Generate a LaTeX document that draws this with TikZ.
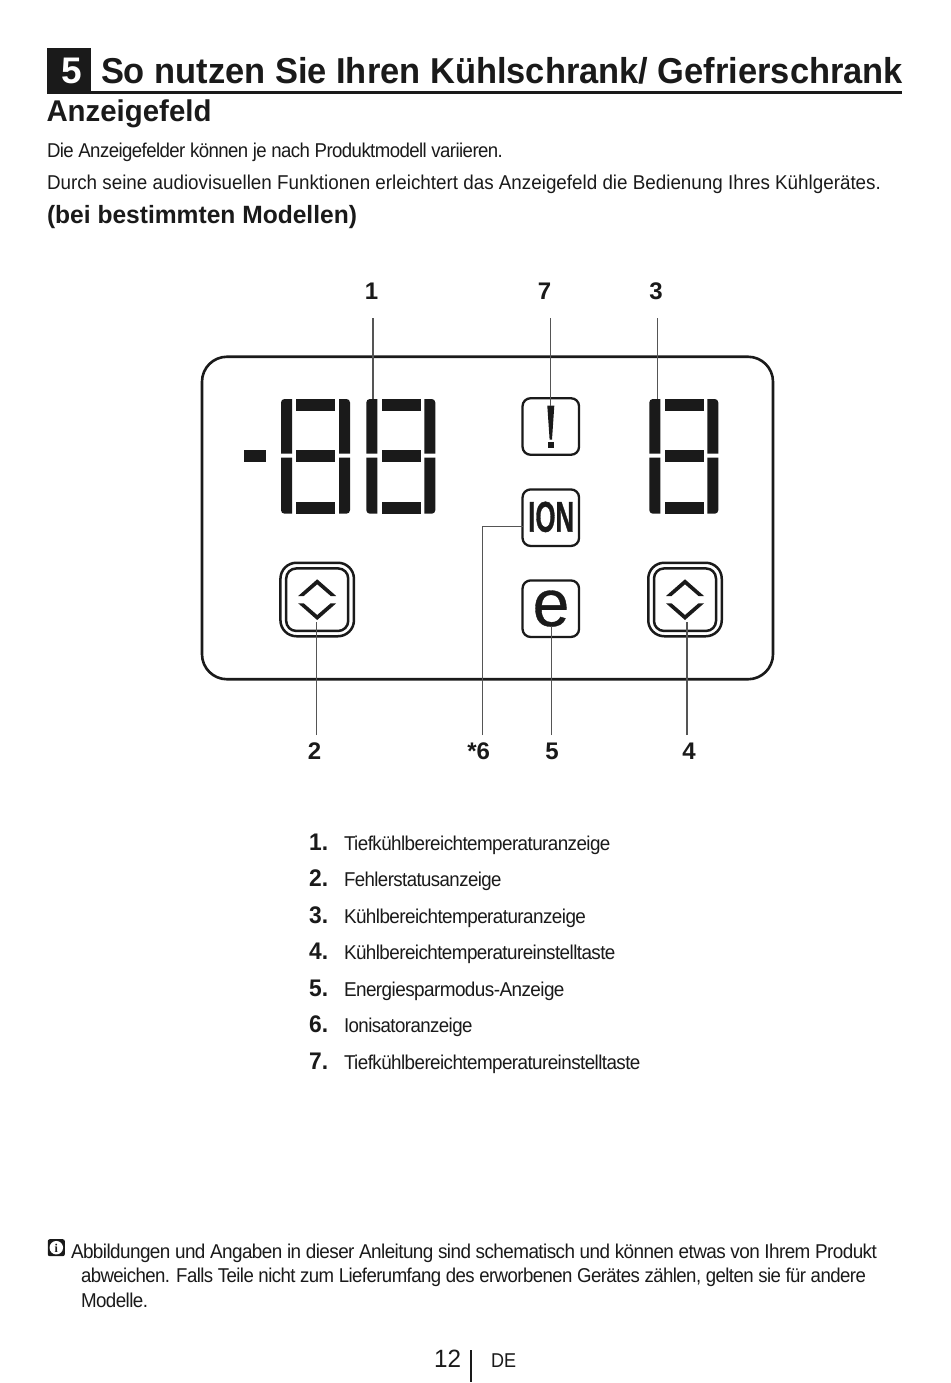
\documentclass[tikz,border=0pt]{standalone}
\usepackage{fontspec}
\usepackage{graphicx}
\setmainfont{Liberation Sans}
\newfontfamily\iconserif{Liberation Serif}
\newfontfamily\ecofont[FakeBold=0.5]{Liberation Sans}
\newfontfamily\ionfont[FakeBold=1.1]{Liberation Sans Bold}
\newfontfamily\tightfont[LetterSpace=-3]{Liberation Sans}
\definecolor{ink}{HTML}{1A1A1A}
\definecolor{leader}{HTML}{555555}
\newsavebox{\fitbox}
% set text in a box and stretch it horizontally to a given width in px
\newcommand{\fitw}[2]{\sbox{\fitbox}{#2}\pgfmathsetmacro{\fitr}{#1/(\wd\fitbox/1pt)}\scalebox{\fitr}[1]{\usebox{\fitbox}}}
\newcommand{\sevenseg}[1]{%
\begin{scope}[xshift=#1pt]
\fill[seg] (281,453.5) [rounded corners=3.5pt] -- (281,399) [sharp corners] -- (292,399) -- (292,453.5) -- cycle;
\fill[seg] (281,457.7) -- (292,457.7) -- (292,513.7) [rounded corners=3.5pt] -- (281,513.7) [sharp corners] -- cycle;
\fill[seg] (350,453.5) [rounded corners=3.5pt] -- (350,399) [sharp corners] -- (339,399) -- (339,453.5) -- cycle;
\fill[seg] (350,457.7) -- (339,457.7) -- (339,513.7) [rounded corners=3.5pt] -- (350,513.7) [sharp corners] -- cycle;
\fill[seg] (296.3,399) rectangle (335.3,410.7);
\fill[seg] (296.3,450.3) rectangle (335.3,462);
\fill[seg] (296.3,502.3) rectangle (335.3,513.7);
\end{scope}}
\newcommand{\chevrons}[1]{%
\fill[seg] (#1,579.3) -- (#1+19,596) -- (#1+13.5,596) -- (#1,584.3) -- (#1-13.5,596) -- (#1-19,596) -- cycle;
\fill[seg] (#1,620) -- (#1+19,603.3) -- (#1+13.5,603.3) -- (#1,615) -- (#1-13.5,603.3) -- (#1-19,603.3) -- cycle;}
\tikzset{
  seg/.style={fill=ink},
  txt/.style={inner sep=0pt,outer sep=0pt,anchor=base west,text=ink,font=\fontsize{20}{24}\selectfont},
  tighttxt/.style={inner sep=0pt,outer sep=0pt,anchor=base west,text=ink,font=\tightfont\fontsize{20}{24}\selectfont},
  boldhead/.style={txt,font=\fontsize{25}{28}\selectfont\bfseries},
  callout/.style={inner sep=0pt,anchor=base,text=ink,font=\fontsize{24}{28}\selectfont\bfseries},
  listnum/.style={inner sep=0pt,anchor=base west,text=ink,font=\fontsize{24}{28}\selectfont\bfseries},
  softkey/.style={draw=ink,line width=2.3pt,rounded corners=8pt,minimum width=56.5pt,minimum height=56.5pt,inner sep=0pt,outer sep=0pt},
  leaderline/.style={draw=leader,line width=1.1pt},
  outerkey/.style={draw=ink,line width=2.5pt,rounded corners=16pt,minimum width=73.5pt,minimum height=73.5pt,inner sep=0pt,outer sep=0pt},
  innerkey/.style={draw=ink,line width=2.5pt,rounded corners=10pt,minimum width=62pt,minimum height=62.5pt,inner sep=0pt,outer sep=0pt},
}
\begin{document}
\begin{tikzpicture}[x=1pt,y=-1pt]
\useasboundingbox (0,0) rectangle (950,1383);
\fill[white] (0,0) rectangle (950,1383);
% header
\node[fill=ink,minimum width=44pt,minimum height=45pt,inner sep=0pt,outer sep=0pt] (secbox) at (69,70.7) {};
\node[inner sep=0pt,anchor=base,text=white,font=\fontsize{37}{40}\selectfont\bfseries] (secnum) at (71.5,84) {5};
\node[txt,font=\fontsize{36}{40}\selectfont\bfseries] (title) at (101,84) {\fitw{802}{So nutzen Sie Ihren Kühlschrank/ Gefrierschrank}};
\fill[ink] (47,91.4) rectangle (902,93.7);
\node[txt,font=\fontsize{30}{32}\selectfont\bfseries] (sub) at (46.5,122) {\fitw{165}{Anzeigefeld}};
\node[tighttxt] (intro1) at (47,157.7) {\fitw{456}{Die Anzeigefelder können je nach Produktmodell variieren.}};
\node[txt] (intro2) at (47,189.7) {\fitw{834}{Durch seine audiovisuellen Funktionen erleichtert das Anzeigefeld die Bedienung Ihres Kühlgerätes.}};
\node[boldhead] (models) at (47,223.5) {\fitw{310}{(bei bestimmten Modellen)}};
% panel
\node[draw=ink,line width=2.6pt,rounded corners=25pt,minimum width=571pt,minimum height=322.5pt,inner sep=0pt,outer sep=0pt] (panel) at (487.5,518) {};
\fill[seg] (244,450.3) rectangle (265.7,462);
\sevenseg{0}
\sevenseg{85.3}
\sevenseg{368.3}
\node[softkey] (alarm) at (550.8,426.5) {};
\node[softkey] (ion) at (550.8,517.7) {};
\node[softkey] (eco) at (550.8,608.7) {};
\fill[seg] (547.3,405.7) -- (554.3,405.7) -- (552,439.5) -- (549.6,439.5) -- cycle;
\fill[seg] (547.8,441.7) rectangle (553.7,447.7);
\node[inner sep=0pt,anchor=base,text=ink,font=\ionfont\fontsize{43}{43}\selectfont,xscale=.6] (iontext) at (551.2,531.7) {ION};
\node[inner sep=0pt,anchor=base,text=ink,font=\ecofont\fontsize{66}{66}\selectfont] (ecotext) at (551,626) {e};
\node[outerkey] (keyL) at (317.2,599.5) {};
\node[innerkey] (keyLi) at (317.2,599.7) {};
\chevrons{317.2}
\node[outerkey] (keyR) at (685,599.5) {};
\node[innerkey] (keyRi) at (685,599.7) {};
\chevrons{685}
% callout labels
\node[callout] (n1) at (371.5,299.5) {1};
\node[callout] (n7) at (544.5,299.5) {7};
\node[callout] (n3) at (656,299.5) {3};
\node[callout] (n2) at (314.5,759.5) {2};
\node[callout] (n6) at (478.7,759.5) {*6};
\node[callout] (n5) at (552,759.5) {5};
\node[callout] (n4) at (689,759.5) {4};
% leader ends
\coordinate (a1) at (373,318); \coordinate (b1) at (373,399);
\coordinate (a7) at (550.7,318); \coordinate (b7) at (550.7,406);
\coordinate (a3) at (657.7,318); \coordinate (b3) at (657.7,399);
\coordinate (a2) at (316.7,735); \coordinate (b2) at (316.7,622);
\coordinate (a6) at (482.7,735); \coordinate (c6) at (482.7,526.7); \coordinate (b6) at (ion.west|-c6);
\coordinate (a5) at (551.7,735); \coordinate (b5) at (551.7,626);
\coordinate (a4) at (687,735); \coordinate (b4) at (687,622);
\draw[leaderline] (a1) -- (b1);
\draw[leaderline] (a7) -- (b7);
\draw[leaderline] (a3) -- (b3);
\draw[leaderline] (a2) -- (b2);
\draw[leaderline] (a6) -- (c6) -- (b6);
\draw[leaderline] (a5) -- (b5);
\draw[leaderline] (a4) -- (b4);
% list
\node[listnum] (l1) at (309,850) {\fitw{19}{1.}};
\node[listnum] (l2) at (309,886.5) {\fitw{19}{2.}};
\node[listnum] (l3) at (309,923) {\fitw{19}{3.}};
\node[listnum] (l4) at (309,959.5) {\fitw{19}{4.}};
\node[listnum] (l5) at (309,996) {\fitw{19}{5.}};
\node[listnum] (l6) at (309,1032.5) {\fitw{19}{6.}};
\node[listnum] (l7) at (309,1069) {\fitw{19}{7.}};
\node[tighttxt] (t1) at (344,850) {\fitw{266.5}{Tiefkühlbereichtemperaturanzeige}};
\node[tighttxt] (t2) at (344,886.5) {\fitw{157.5}{Fehlerstatusanzeige}};
\node[tighttxt] (t3) at (344,923) {\fitw{242}{Kühlbereichtemperaturanzeige}};
\node[tighttxt] (t4) at (344,959.5) {\fitw{271.5}{Kühlbereichtemperatureinstelltaste}};
\node[tighttxt] (t5) at (344,996) {\fitw{220.5}{Energiesparmodus-Anzeige}};
\node[tighttxt] (t6) at (344,1032.5) {\fitw{128.5}{Ionisatoranzeige}};
\node[tighttxt] (t7) at (344,1069) {\fitw{296.5}{Tiefkühlbereichtemperatureinstelltaste}};
% note
\node[fill=ink,rounded corners=2pt,minimum width=17pt,minimum height=17pt,inner sep=0pt] (icon) at (56.3,1247.7) {};
\node[fill=white,circle,minimum size=13.5pt,inner sep=0pt] (iconc) at (56.3,1247.7) {};
\node[inner sep=0pt,anchor=base,text=ink,font=\iconserif\fontsize{12}{12}\selectfont\bfseries] (iconi) at (56.3,1252) {i};
\node[tighttxt] (note1) at (71,1258) {\fitw{806}{Abbildungen und Angaben in dieser Anleitung sind schematisch und können etwas von Ihrem Produkt}};
\node[tighttxt] (note2) at (81,1282) {\fitw{785}{abweichen. Falls Teile nicht zum Lieferumfang des erworbenen Gerätes zählen, gelten sie für andere}};
\node[tighttxt] (note3) at (81,1307) {\fitw{67}{Modelle.}};
% footer
\node[txt,font=\fontsize{25}{28}\selectfont] (page) at (434,1367) {\fitw{27}{12}};
\fill[ink] (470,1350) rectangle (472,1382);
\node[txt] (lang) at (491,1367) {\fitw{25}{DE}};
\end{tikzpicture}
\end{document}
